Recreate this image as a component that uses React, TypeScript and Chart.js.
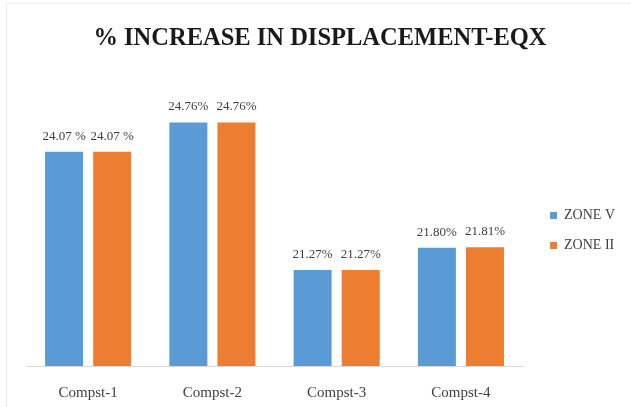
import React, { useEffect, useRef } from "react";
import { Chart, registerables } from "chart.js";

Chart.register(...registerables);

const categories = ["Compst-1", "Compst-2", "Compst-3", "Compst-4"];
const zoneV = [24.07, 24.76, 21.27, 21.8];
const zoneII = [24.07, 24.76, 21.27, 21.81];
const zoneVLabels = ["24.07 %", "24.76%", "21.27%", "21.80%"];
const zoneIILabels = ["24.07 %", "24.76%", "21.27%", "21.81%"];
const seriesNames = ["ZONE V", "ZONE II"];
const titleText = "% INCREASE IN DISPLACEMENT-EQX";

const labelPlugin = {
  id: "barLabels",
  afterDatasetsDraw(chart: any) {
    const ctx = chart.ctx;
    const allLabels = [zoneVLabels, zoneIILabels];
    ctx.save();
    ctx.font = "13px 'Liberation Serif', serif";
    ctx.fillStyle = "#404040";
    ctx.textAlign = "center";
    ctx.textBaseline = "bottom";
    chart.data.datasets.forEach((ds: any, i: number) => {
      const meta = chart.getDatasetMeta(i);
      meta.data.forEach((bar: any, j: number) => {
        ctx.fillText(allLabels[i][j], bar.x, bar.y - 9);
      });
    });
    ctx.restore();
  },
};

const legendShift = {
  id: "legendShift",
  afterLayout(chart: any) {
    const lg = chart.legend;
    if (!lg) return;
    lg.left += 11;
    lg.right += 11;
    lg.top += 20;
    lg.bottom += 20;
  },
};

export default function App() {
  const ref = useRef<HTMLCanvasElement>(null);
  useEffect(() => {
    const chart = new Chart(ref.current!, {
      type: "bar",
      data: {
        labels: categories,
        datasets: [
          { label: seriesNames[0], data: zoneV, backgroundColor: "#5B9BD5" },
          { label: seriesNames[1], data: zoneII, backgroundColor: "#ED7D31" },
        ],
      },
      plugins: [labelPlugin, legendShift],
      options: {
        animation: false,
        responsive: false,
        layout: { padding: { left: 26, right: 17, bottom: -14, top: 0 } },
        datasets: { bar: { categoryPercentage: 0.774, barPercentage: 0.79 } } as any,
        plugins: {
          title: {
            display: true,
            text: titleText,
            color: "#1a1a1a",
            font: { family: "'Liberation Serif', serif", size: 24.5, weight: "bold" },
            padding: { top: 24, bottom: 59 },
          },
          legend: {
            position: "right",
            labels: {
              boxWidth: 7,
              boxHeight: 7,
              padding: 16,
              color: "#404040",
              font: { family: "'Liberation Serif', serif", size: 14 },
            },
          },
          tooltip: { enabled: false },
        },
        scales: {
          x: {
            grid: { display: false, drawTicks: false },
            border: { display: true, color: "#d9d9d9" },
            ticks: {
              color: "#404040",
              padding: 20,
              font: { family: "'Liberation Serif', serif", size: 15, lineHeight: 1 },
            },
          },
          y: { display: false, min: 19, max: 25 },
        },
      },
    });
    return () => chart.destroy();
  }, []);
  return (
    <div style={{ position: "fixed", left: 0, top: 0, width: 631, height: 407, background: "#fff" }}>
      <div
        style={{
          position: "absolute",
          left: 6,
          top: 3,
          width: 640,
          height: 420,
          borderLeft: "1px solid #ececec",
          borderTop: "1px solid #ececec",
        }}
      />
      <canvas ref={ref} width={631} height={407} style={{ position: "absolute", left: 0, top: 0 }} />
    </div>
  );
}
